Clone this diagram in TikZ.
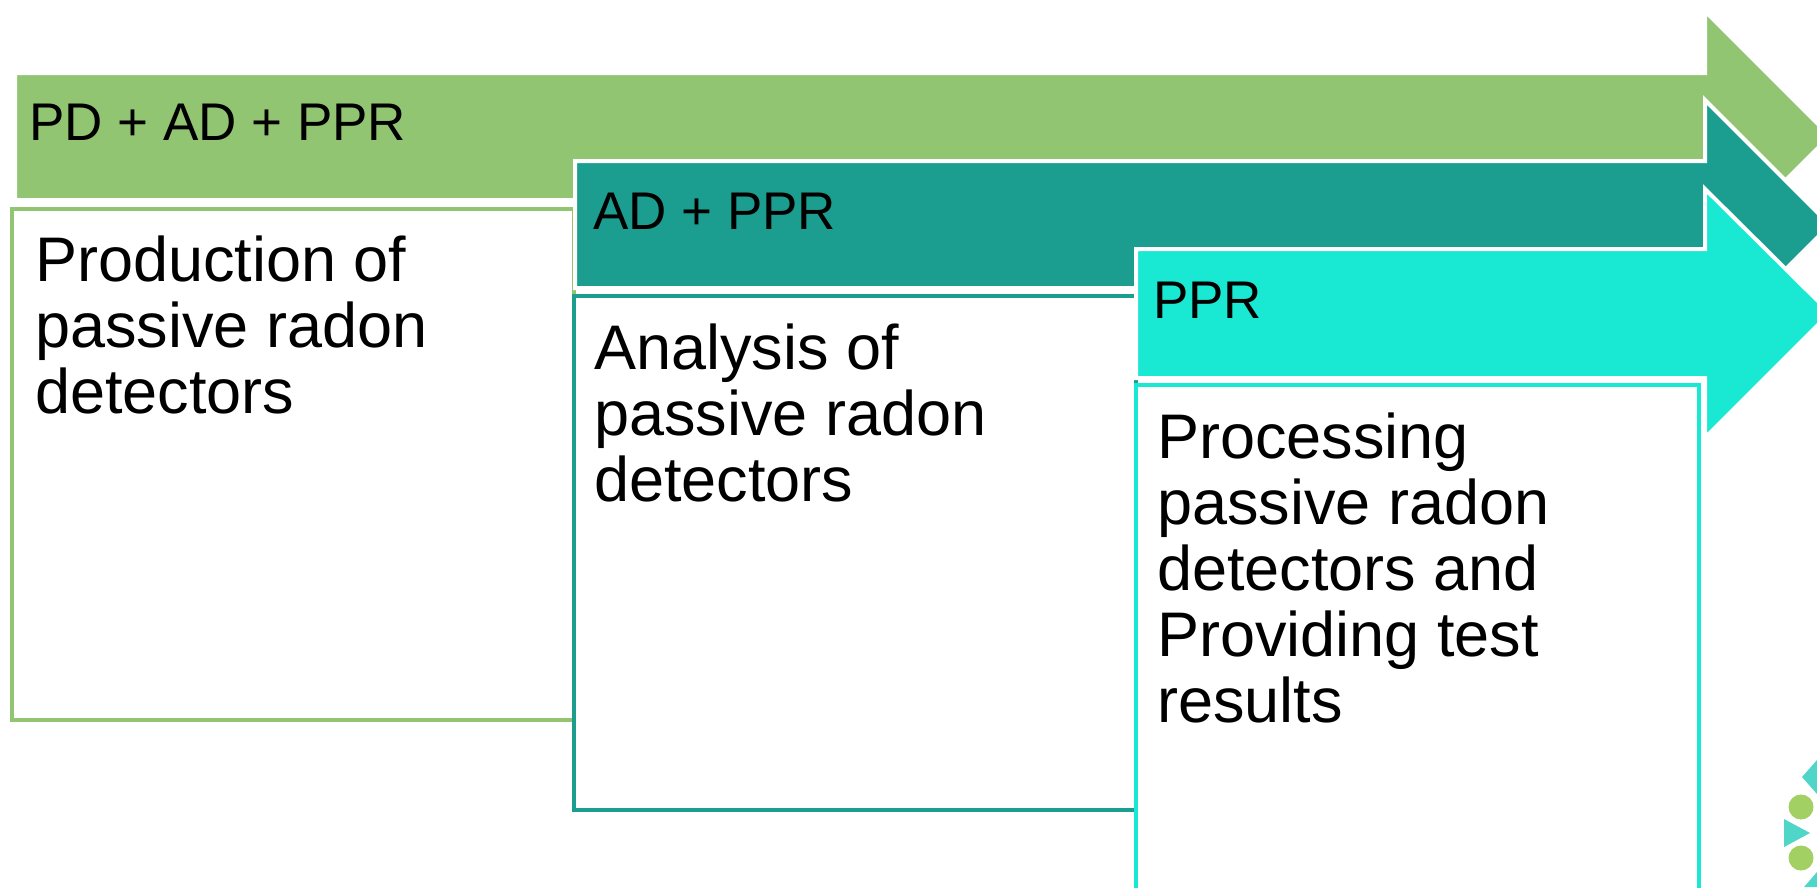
\documentclass[tikz,border=0pt]{standalone}
\usepackage{fontspec}
\setmainfont{Liberation Sans}
\usetikzlibrary{positioning}
\definecolor{prodgreen}{HTML}{92C572}
\definecolor{anateal}{HTML}{1B9E90}
\definecolor{procyan}{HTML}{19E9D3}
\definecolor{logogreen}{HTML}{A3D063}
\definecolor{logocyan}{HTML}{4FD6C8}
\tikzset{
  stagearrow/.style={fill=#1, draw=white, line width=4, line join=miter},
  stagebox/.style={draw=#1, fill=white, line width=4.5},
  headtext/.style={anchor=base west, inner sep=0, font=\fontsize{53}{53}\selectfont},
  bodytext/.style={anchor=north west, inner sep=0, align=left, font=\fontsize{63}{66}\selectfont},
}

\begin{document}
\begin{tikzpicture}[x=1pt, y=-1pt]
        \clip (0,0) rectangle (1817,887);
        % Production stage arrow
        \draw[stagearrow=prodgreen] (15,73) -- (1705,73) -- (1705,11) -- (1830,136) -- (1705,261) -- (1705,200) -- (15,200) -- cycle;
        \node[headtext] (pdhead) at (29,140) {PD + AD + PPR};
        % Production stage box
        \draw[stagebox=prodgreen] (12,209) rectangle (574,720);
        \node[bodytext] (prodtext) at (35,236) {Production of\\passive radon\\detectors};

        % Analysis stage arrow
        \draw[stagearrow=anateal] (575,161) -- (1705,161) -- (1705,100) -- (1830,225) -- (1705,350) -- (1705,288) -- (575,288) -- cycle;
        \node[headtext] (adhead) at (593,229) {AD + PPR};
        % Analysis stage box
        \draw[stagebox=anateal] (574,296) rectangle (1136,810);
        \node[bodytext] (anatext) at (594,324) {Analysis of\\passive radon\\detectors};

        % Processing stage arrow
        \draw[stagearrow=procyan] (1136,249) -- (1705,249) -- (1705,189) -- (1830,313) -- (1705,438) -- (1705,378) -- (1136,378) -- cycle;
        \node[headtext] (pprhead) at (1153,318) {PPR};
        % Processing stage box
        \draw[stagebox=procyan] (1136,385) rectangle (1699,900);
        \node[bodytext] (proctext) at (1157,413) {Processing\\passive radon\\detectors and\\Providing test\\results};

        % Logo corner
        \fill[logocyan] (1817,760) -- (1802,777) -- (1817,794) -- cycle;
        \fill[logogreen] (1801,807) circle (12.5);
        \fill[logocyan] (1784,819) -- (1810,833) -- (1784,847) -- cycle;
        \fill[logogreen] (1801,858) circle (12.5);
        \fill[logocyan] (1817,872) -- (1804,887) -- (1817,887) -- cycle;
    \end{tikzpicture}
\end{document}
